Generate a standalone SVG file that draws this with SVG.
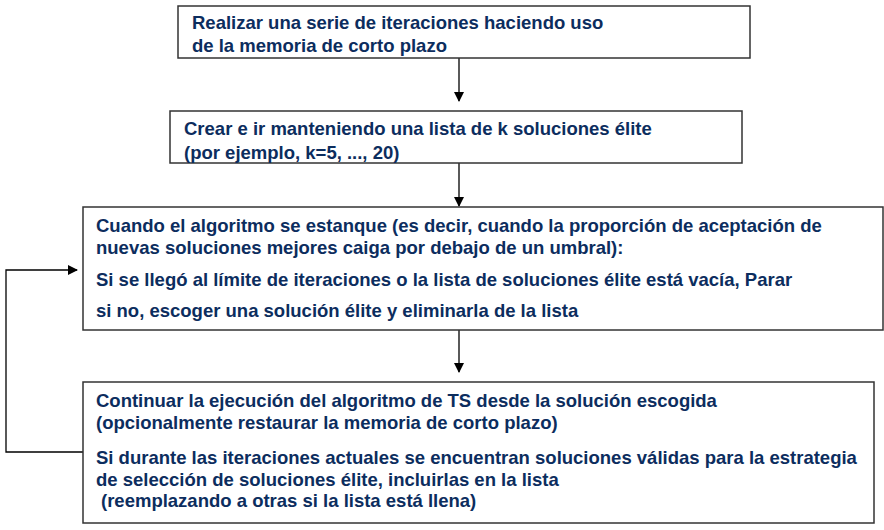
<svg xmlns="http://www.w3.org/2000/svg" width="884" height="530" viewBox="0 0 884 530">
<defs>
<marker id="ah" markerWidth="10" markerHeight="10" refX="9" refY="5" orient="auto" markerUnits="userSpaceOnUse">
<path d="M0,0 L10,5 L0,10 Z" fill="#000"/>
</marker>
<style>
.box{fill:#fff;stroke:#333;stroke-width:1.5}
.t{font-family:"Liberation Sans",Arial,sans-serif;font-weight:bold;font-size:18.5px;fill:#0c2d5e}
.c{fill:none;stroke:#000;stroke-width:1.3}
</style>
</defs>
<rect width="884" height="530" fill="#fff"/>
<g id="connectors">
<line class="c" x1="459" y1="58" x2="459" y2="101" marker-end="url(#ah)"/>
<line class="c" x1="459" y1="163" x2="459" y2="206" marker-end="url(#ah)"/>
<line class="c" x1="459" y1="330" x2="459" y2="372" marker-end="url(#ah)"/>
<polyline class="c" points="83,452 6,452 6,270 77,270" marker-end="url(#ah)"/>
</g>
<g id="n1">
<rect class="box" x="178" y="6" width="572" height="52"/>
<text class="t" x="192" y="29">Realizar una serie de iteraciones haciendo uso</text>
<text class="t" x="192" y="52">de la memoria de corto plazo</text>
</g>
<g id="n2">
<rect class="box" x="170" y="111" width="572" height="52"/>
<text class="t" x="184" y="135">Crear e ir manteniendo una lista de k soluciones élite</text>
<text class="t" x="184" y="159">(por ejemplo, k=5, ..., 20)</text>
</g>
<g id="n3">
<rect class="box" x="83" y="207" width="800" height="123"/>
<text class="t" x="96" y="232">Cuando el algoritmo se estanque (es decir, cuando la proporción de aceptación de</text>
<text class="t" x="96" y="254">nuevas soluciones mejores caiga por debajo de un umbral):</text>
<text class="t" x="96" y="286">Si se llegó al límite de iteraciones o la lista de soluciones élite está vacía, Parar</text>
<text class="t" x="96" y="317">si no, escoger una solución élite y eliminarla de la lista</text>
</g>
<g id="n4">
<rect class="box" x="83" y="382" width="791" height="141"/>
<text class="t" x="96" y="407">Continuar la ejecución del algoritmo de TS desde la solución escogida</text>
<text class="t" x="96" y="429">(opcionalmente restaurar la memoria de corto plazo)</text>
<text class="t" x="96" y="464">Si durante las iteraciones actuales se encuentran soluciones válidas para la estrategia</text>
<text class="t" x="96" y="486">de selección de soluciones élite, incluirlas en la lista</text>
<text class="t" x="101" y="507">(reemplazando a otras si la lista está llena)</text>
</g>
</svg>
